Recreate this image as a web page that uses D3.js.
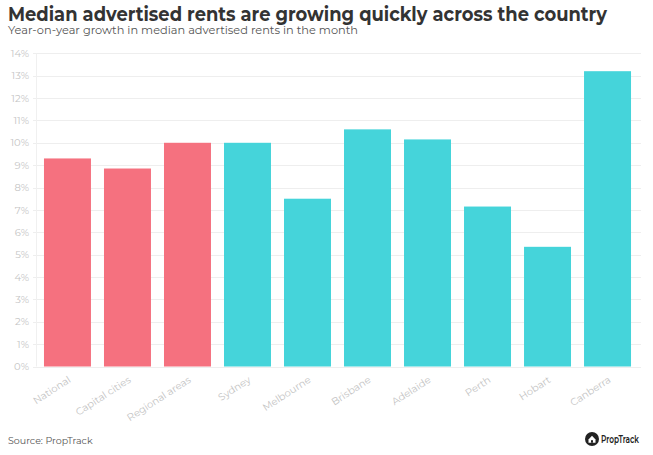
<!DOCTYPE html>
<html><head><meta charset="utf-8">
<script src="https://cdn.jsdelivr.net/npm/d3@7"></script>
<style>body{margin:0;background:#fff}svg{display:block}</style>
</head><body>
<script>
const categories = ["National","Capital cities","Regional areas","Sydney","Melbourne","Brisbane","Adelaide","Perth","Hobart","Canberra"];
const values = [9.3, 8.85, 10.0, 10.0, 7.5, 10.6, 10.15, 7.15, 5.35, 13.2];
const groups = ["agg","agg","agg","city","city","city","city","city","city","city"];
const yTicks = [0,1,2,3,4,5,6,7,8,9,10,11,12,13,14];
const title = "Median advertised rents are growing quickly across the country";
const subtitle = "Year-on-year growth in median advertised rents in the month";
const source = "Source: PropTrack";

const W = 653, H = 455;
const svg = d3.select("body").append("svg").attr("width", W).attr("height", H);
const font = "Montserrat, 'Open Sans', sans-serif";

const x = d3.scaleBand().domain(categories).range([37.5, 637.5]).paddingInner(0.217).paddingOuter(0.108);
const y = d3.scaleLinear().domain([0, 14]).range([366.5, 53.3]);
const color = d => d === "agg" ? "#f5717f" : "#45d4da";

// gridlines
svg.append("g").selectAll("line").data(yTicks).join("line")
  .attr("x1", 33).attr("x2", 641)
  .attr("y1", d => Math.round(y(d)) + 0.5).attr("y2", d => Math.round(y(d)) + 0.5)
  .attr("stroke", "#eeeeee").attr("stroke-width", 1);
svg.append("line").attr("x1", 36.5).attr("x2", 36.5).attr("y1", y(14)).attr("y2", y(0))
  .attr("stroke", "#f0f0f0");

// y labels
const yAxis = d3.axisLeft(y).tickValues(yTicks).tickFormat(d => d + "%").tickSize(0).tickPadding(0);
const ya = svg.append("g").attr("transform", "translate(29,0)").call(yAxis);
ya.select(".domain").remove();
ya.selectAll("text").attr("fill", "#c4c4c4").style("font-family", font).style("font-size", "10px");

// bars
svg.append("g").selectAll("rect").data(categories).join("rect")
  .attr("x", d => x(d)).attr("width", x.bandwidth())
  .attr("y", (d, i) => y(values[i])).attr("height", (d, i) => y(0) - y(values[i]))
  .attr("fill", (d, i) => color(groups[i]));

// x labels
const xAxis = d3.axisBottom(x).tickSize(0).tickPadding(0);
const xa = svg.append("g").attr("transform", `translate(0,${y(0)})`).call(xAxis);
xa.select(".domain").remove();
xa.selectAll("text")
  .attr("fill", "#c4c4c4").style("font-family", font).style("font-size", "10px")
  .attr("text-anchor", "end").attr("dy", null).attr("y", 0)
  .attr("transform", "translate(4,15) rotate(-33)");

// titles
svg.append("text").attr("x", 8).attr("y", 20.5).text(title)
  .style("font-family", font).style("font-weight", 700).style("font-size", "19px")
  .attr("fill", "#333").attr("textLength", 599).attr("lengthAdjust", "spacingAndGlyphs");
svg.append("text").attr("x", 8).attr("y", 33.5).text(subtitle)
  .style("font-family", font).style("font-size", "12px")
  .attr("fill", "#555").attr("textLength", 350).attr("lengthAdjust", "spacingAndGlyphs");
svg.append("text").attr("x", 8).attr("y", 444).text(source)
  .style("font-family", font).style("font-size", "9.5px").attr("fill", "#555");

// logo
const lg = svg.append("g").attr("transform", "translate(592,439)");
lg.append("circle").attr("r", 7).attr("fill", "#222");
lg.append("path").attr("d", "M-3.5,0.5 L0,-3.2 L3.5,0.5 L3.5,3.7 L-3.5,3.7 Z").attr("fill", "#fff");
lg.append("rect").attr("x", -1).attr("y", 1.2).attr("width", 2).attr("height", 2.5).attr("fill", "#222");
lg.append("text").attr("x", 9).attr("y", 3.5).text("PropTrack")
  .style("font-family", font).style("font-weight", 600).style("font-size", "10px").attr("fill", "#222")
  .attr("textLength", 38).attr("lengthAdjust", "spacingAndGlyphs");
</script>
</body></html>
